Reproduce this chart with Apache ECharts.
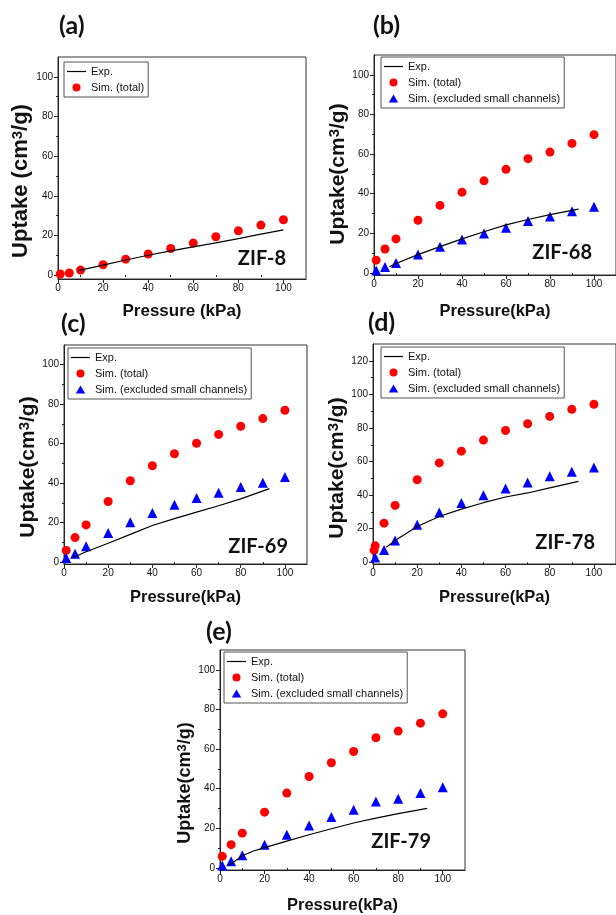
<!DOCTYPE html>
<html><head><meta charset="utf-8">
<script src="https://cdn.jsdelivr.net/npm/echarts@6/dist/echarts.min.js"></script>
<style>html,body{margin:0;padding:0;background:#fff}#c{width:616px;height:915px}</style>
</head><body><div id="c"></div>
<script>
// ---- data ----
const xTicks = [0, 20, 40, 60, 80, 100];
const xMinor = [10, 30, 50, 70, 90];
const yTicks100 = [0, 20, 40, 60, 80, 100];
const yMinor100 = [10, 30, 50, 70, 90];
const yTicks120 = [0, 20, 40, 60, 80, 100, 120];
const yMinor120 = [10, 30, 50, 70, 90, 110];
const simP = [1, 5, 10, 20, 30, 40, 50, 60, 70, 80, 90, 100];

const zif8Sim = [0.5, 1.0, 2.5, 5.2, 8.0, 10.6, 13.4, 16.1, 19.3, 22.3, 25.2, 27.9];
const zif8ExpP = [9, 20, 30, 40, 50, 60, 70, 80, 90, 100];
const zif8ExpU = [2.2, 5.0, 7.6, 10.0, 12.2, 14.2, 16.2, 18.4, 20.6, 22.8];

const zif68Sim = [6.5, 12.1, 17.2, 26.6, 34.1, 40.8, 46.5, 52.3, 57.7, 61.0, 65.4, 69.8];
const zif68Exc = [1.3, 3.0, 5.1, 9.3, 13.2, 16.9, 19.9, 22.9, 26.3, 28.5, 31.2, 33.4];
const zif68ExpP = [7, 10, 20, 30, 40, 50, 60, 70, 80, 93];
const zif68ExpU = [3.2, 4.8, 9.3, 13.3, 17.2, 20.8, 24.3, 27.0, 29.5, 32.2];

const zif69Sim = [5.9, 12.4, 18.8, 30.7, 41.2, 48.8, 54.9, 60.2, 64.7, 68.8, 72.7, 76.9];
const zif69Exc = [2.0, 4.2, 8.0, 14.7, 20.2, 24.9, 29.0, 32.4, 35.1, 38.0, 40.2, 43.1];
const zif69ExpP = [4, 10, 20, 30, 40, 50, 60, 70, 80, 93];
const zif69ExpU = [2.2, 5.2, 9.5, 14.0, 18.5, 22.0, 25.3, 28.5, 32.0, 37.2];

const zif78SimP = [0.5, 1, 5, 10, 20, 30, 40, 50, 60, 70, 80, 90, 100];
const zif78Sim = [7.2, 9.8, 23.3, 33.9, 49.2, 59.2, 66.2, 72.8, 78.5, 82.5, 86.9, 91.1, 94.1];
const zif78Exc = [2.8, 7.4, 13.0, 22.3, 29.7, 35.3, 39.9, 44.0, 47.6, 51.2, 54.0, 56.4];
const zif78ExpP = [6, 10, 20, 30, 40, 50, 60, 70, 80, 93];
const zif78ExpU = [9.0, 13.0, 21.3, 27.3, 31.7, 35.5, 38.9, 41.3, 44.3, 48.2];

const zif79Sim = [5.9, 11.8, 17.6, 28.2, 37.8, 46.2, 53.1, 58.8, 65.7, 69.1, 73.1, 77.8];
const zif79Exc = [1.3, 3.4, 6.4, 11.8, 16.8, 21.5, 25.7, 29.4, 33.6, 35.0, 37.8, 40.7];
const zif79ExpP = [4, 10, 15, 20, 30, 40, 50, 60, 70, 80, 93];
const zif79ExpU = [1.3, 6.2, 8.6, 10.3, 13.6, 16.8, 19.8, 22.7, 25.2, 27.4, 30.1];

// ---- build ----
const FONT = "'Liberation Sans',Arial,sans-serif";
const LFONT = "Lato,'Open Sans',sans-serif";
const zip = (a, b) => a.map((v, i) => [v, b[i]]);

const panels = [
  { letter: '(a)', lx: 59, ly: 27, zif: 'ZIF-8', zx: 286, zy: 259, grid: { left: 58, top: 57, width: 248, height: 222 }, ymin: -2, ymax: 110,
    yt: yTicks100, ym: yMinor100, xname: 'Pressure (kPa)', xfs: 17, xgap: 24, yname: 'Uptake (cm', yfs: 22, ygap: 16, ypad: 26,
    legend: { left: 64, top: 62 }, sim: zip(simP, zif8Sim), exc: null, exp: zip(zif8ExpP, zif8ExpU) },
  { letter: '(b)', lx: 373, ly: 27, zif: 'ZIF-68', zx: 592, zy: 253, grid: { left: 374, top: 55, width: 246, height: 220 }, ymin: -1, ymax: 110,
    yt: yTicks100, ym: yMinor100, xname: 'Pressure(kPa)', xfs: 16.5, xgap: 28, yname: 'Uptake(cm', yfs: 21, ygap: 18, ypad: 18,
    legend: { left: 381, top: 57 }, sim: zip(simP, zif68Sim), exc: zip(simP, zif68Exc), exp: zip(zif68ExpP, zif68ExpU) },
  { letter: '(c)', lx: 61, ly: 325, zif: 'ZIF-69', zx: 288, zy: 547, grid: { left: 64, top: 345, width: 243, height: 219 }, ymin: -1, ymax: 110,
    yt: yTicks100, ym: yMinor100, xname: 'Pressure(kPa)', xfs: 16.5, xgap: 25, yname: 'Uptake(cm', yfs: 21, ygap: 21, ypad: 25,
    legend: { left: 68, top: 348 }, sim: zip(simP, zif69Sim), exc: zip(simP, zif69Exc), exp: zip(zif69ExpP, zif69ExpU) },
  { letter: '(d)', lx: 368, ly: 324, zif: 'ZIF-78', zx: 595, zy: 543, grid: { left: 373, top: 344, width: 244, height: 220 }, ymin: -1, ymax: 130,
    yt: yTicks120, ym: yMinor120, xname: 'Pressure(kPa)', xfs: 16.5, xgap: 25, yname: 'Uptake(cm', yfs: 21, ygap: 19, ypad: 28,
    legend: { left: 381, top: 347 }, sim: zip(zif78SimP, zif78Sim), exc: zip(simP, zif78Exc), exp: zip(zif78ExpP, zif78ExpU) },
  { letter: '(e)', lx: 206, ly: 633, zif: 'ZIF-79', zx: 431, zy: 842, grid: { left: 220, top: 650, width: 245, height: 220 }, ymin: -1, ymax: 110,
    yt: yTicks100, ym: yMinor100, xname: 'Pressure(kPa)', xfs: 16.5, xgap: 27, yname: 'Uptake(cm', yfs: 18, ygap: 17, ypad: 46,
    legend: { left: 224, top: 652 }, sim: zip(simP, zif79Sim), exc: zip(simP, zif79Exc), exp: zip(zif79ExpP, zif79ExpU) }
];

const axisLineStyle = { color: '#222', width: 1 };
const grids = [], xAxes = [], yAxes = [], series = [], legends = [], graphics = [];
// legend icons drawn inside a 19x8 box so they keep their shape
const ICON_LINE = 'path://M0,0M19,8M0,3.4L19,3.4L19,4.6L0,4.6Z';
const ICON_CIRCLE = 'path://M0,0M19,8M13.5,4A4,4,0,1,1,5.5,4A4,4,0,1,1,13.5,4Z';
const ICON_TRI = 'path://M0,0M19,8M9.5,0L14.2,8L4.8,8Z';

panels.forEach((p, i) => {
  grids.push(Object.assign({ show: true, borderColor: '#333', borderWidth: 1, containLabel: false }, p.grid));
  xAxes.push({
    gridIndex: i, type: 'value', position: 'bottom', min: 0, max: 110,
    axisLine: { onZero: false, lineStyle: axisLineStyle },
    axisTick: { customValues: xTicks, length: 4, lineStyle: axisLineStyle },
    axisLabel: { customValues: xTicks, fontSize: 10, fontFamily: FONT, color: '#111', margin: 4 },
    splitLine: { show: false },
    name: p.xname, nameLocation: 'middle', nameGap: p.xgap,
    nameTextStyle: { fontSize: p.xfs, fontWeight: 'bold', fontFamily: FONT, color: '#111' }
  });
  xAxes.push({
    gridIndex: i, type: 'value', position: 'bottom', min: 0, max: 110,
    axisLine: { show: false }, axisTick: { customValues: xMinor, length: 2, lineStyle: axisLineStyle },
    axisLabel: { show: false }, splitLine: { show: false }
  });
  yAxes.push({
    gridIndex: i, type: 'value', position: 'left', min: p.ymin, max: p.ymax,
    axisLine: { onZero: false, show: true, lineStyle: axisLineStyle },
    axisTick: { show: true, customValues: p.yt, length: 4, lineStyle: axisLineStyle },
    axisLabel: { customValues: p.yt, fontSize: 10, fontFamily: FONT, color: '#111', margin: 5 },
    splitLine: { show: false },
    name: '{t|' + p.yname + '}{s|3}{t|/g)}', nameLocation: 'middle', nameGap: p.ygap, nameRotate: 90,
    nameTextStyle: {
      padding: [0, p.ypad, 0, 0],
      rich: {
        t: { fontSize: p.yfs, fontWeight: 'bold', fontFamily: FONT, color: '#111' },
        s: { fontSize: Math.round(p.yfs * 0.7), fontWeight: 'bold', fontFamily: FONT, color: '#111', verticalAlign: 'top' }
      }
    }
  });
  yAxes.push({
    gridIndex: i, type: 'value', position: 'left', min: p.ymin, max: p.ymax,
    axisLine: { show: false }, axisTick: { show: true, customValues: p.ym, length: 2, lineStyle: axisLineStyle },
    axisLabel: { show: false }, splitLine: { show: false }
  });
  const xi = 2 * i, yi = 2 * i;
  series.push({ type: 'scatter', name: 'Sim. (total)', xAxisIndex: xi, yAxisIndex: yi, data: p.sim,
    symbol: 'circle', symbolSize: 9, itemStyle: { color: '#ff0000', opacity: 1 }, z: 2 });
  if (p.exc) series.push({ type: 'scatter', name: 'Sim. (excluded small channels)', xAxisIndex: xi, yAxisIndex: yi, data: p.exc,
    symbol: 'triangle', symbolSize: 10, itemStyle: { color: '#0000ff', opacity: 1 }, z: 2 });
  series.push({ type: 'line', name: 'Exp.', xAxisIndex: xi, yAxisIndex: yi, data: p.exp,
    symbol: 'none', showSymbol: false, lineStyle: { color: '#000', width: 1.2 }, itemStyle: { color: '#000' }, z: 3 });
  const ld = [{ name: 'Exp.', icon: ICON_LINE }, { name: 'Sim. (total)', icon: ICON_CIRCLE }];
  if (p.exc) ld.push({ name: 'Sim. (excluded small channels)', icon: ICON_TRI });
  legends.push({
    left: p.legend.left, top: p.legend.top, orient: 'vertical', data: ld, selectedMode: false,
    borderColor: '#555', borderWidth: 1, padding: [4, 4, 4, 3], itemWidth: 19, itemHeight: 8, itemGap: 5,
    backgroundColor: '#fff',
    textStyle: { fontSize: 11, fontFamily: FONT, color: '#111' }
  });
  graphics.push({ type: 'text', left: p.lx, top: p.ly - 14, style: { text: p.letter, font: 'bold 25px ' + LFONT, fill: '#111' } });
  graphics.push({ type: 'text', x: p.zx, y: p.zy, style: { text: p.zif, font: 'bold 20px ' + LFONT, fill: '#111', textAlign: 'right', textVerticalAlign: 'middle' } });
});

const chart = echarts.init(document.getElementById('c'), null, { renderer: 'canvas' });
chart.setOption({
  animation: false,
  grid: grids, xAxis: xAxes, yAxis: yAxes, series: series, legend: legends, graphic: graphics
});
</script></body></html>
